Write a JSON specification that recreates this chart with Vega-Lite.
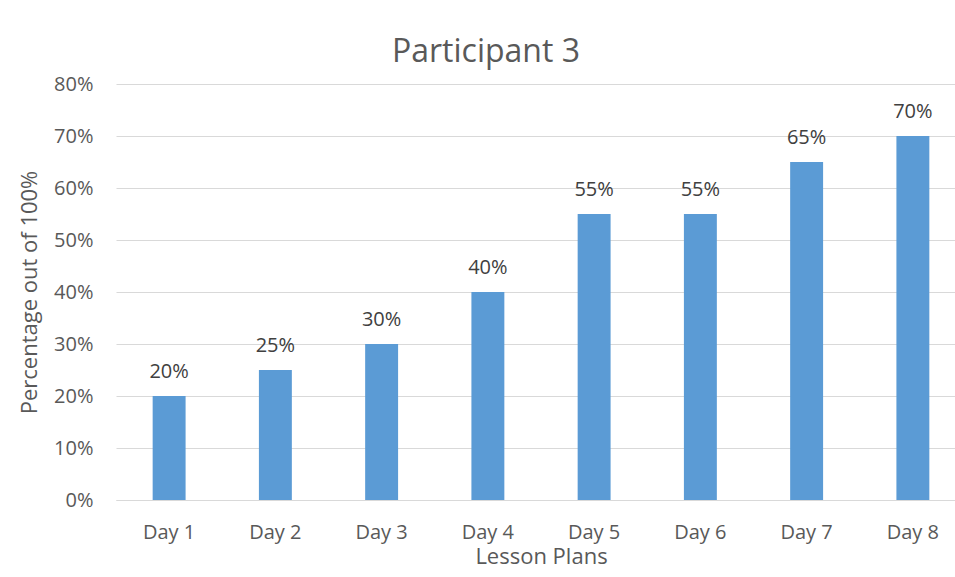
{
  "$schema": "https://vega.github.io/schema/vega-lite/v6.json",
  "autosize": "none",
  "width": 850,
  "height": 416,
  "padding": {"left": 116, "top": 84, "right": 0, "bottom": 77},
  "background": "white",
  "title": {
    "text": "Participant 3",
    "font": "Open Sans",
    "fontSize": 32,
    "fontWeight": "normal",
    "color": "#595959",
    "anchor": "middle",
    "frame": "group",
    "dx": -55,
    "baseline": "alphabetic",
    "offset": -20
  },
  "data": {
    "values": [
      {"day": "Day 1", "score": 0.20},
      {"day": "Day 2", "score": 0.25},
      {"day": "Day 3", "score": 0.30},
      {"day": "Day 4", "score": 0.40},
      {"day": "Day 5", "score": 0.55},
      {"day": "Day 6", "score": 0.55},
      {"day": "Day 7", "score": 0.65},
      {"day": "Day 8", "score": 0.70}
    ]
  },
  "encoding": {
    "x": {
      "field": "day",
      "type": "nominal",
      "sort": null,
      "scale": {"paddingInner": 0.69, "paddingOuter": 0.345},
      "axis": {
        "title": "Lesson Plans",
        "labelAngle": 0,
        "ticks": false,
        "domainColor": "#d9d9d9",
        "labelPadding": 22,
        "titlePadding": 4
      }
    },
    "y": {
      "field": "score",
      "type": "quantitative",
      "scale": {"domain": [0, 0.8], "nice": false},
      "axis": {
        "title": "Percentage out of 100%",
        "format": ".0%",
        "values": [0, 0.1, 0.2, 0.3, 0.4, 0.5, 0.6, 0.7, 0.8],
        "domain": false,
        "ticks": false,
        "gridColor": "#d9d9d9",
        "labelPadding": 23,
        "titlePadding": 12
      }
    }
  },
  "layer": [
    {"mark": {"type": "bar", "color": "#5b9bd5"}},
    {
      "mark": {
        "type": "text",
        "baseline": "alphabetic",
        "dy": -18,
        "font": "Open Sans",
        "fontSize": 20,
        "color": "#404040"
      },
      "encoding": {"text": {"field": "score", "type": "quantitative", "format": ".0%"}}
    }
  ],
  "config": {
    "view": {"stroke": null},
    "axis": {
      "labelFont": "Open Sans",
      "labelFontSize": 20,
      "labelColor": "#595959",
      "titleFont": "Open Sans",
      "titleFontSize": 22,
      "titleFontWeight": "normal",
      "titleColor": "#595959"
    }
  }
}
